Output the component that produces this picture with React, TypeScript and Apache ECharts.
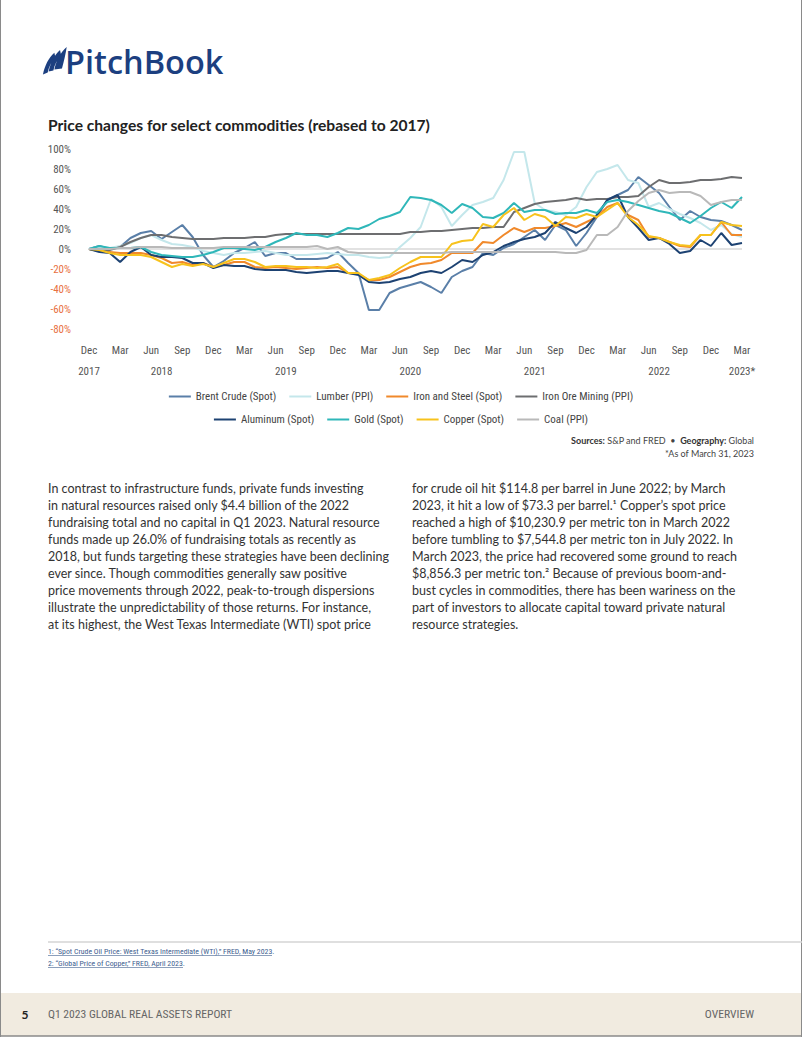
import React, { useEffect, useRef } from "react";
import * as echarts from "echarts";

// ---------- DATA ----------
const MONTH_NAMES = ["Jan", "Feb", "Mar", "Apr", "May", "Jun", "Jul", "Aug", "Sep", "Oct", "Nov", "Dec"];
// Monthly categories from Dec 2017 to Mar 2023
const CATEGORIES: string[] = (() => {
  const out: string[] = [];
  let m = 11, y = 2017;
  while (!(y === 2023 && m === 3)) {
    out.push(MONTH_NAMES[m] + " " + y);
    m++;
    if (m === 12) { m = 0; y++; }
  }
  return out;
})();
const MONTH_TICK_MONTHS = ["Dec", "Mar", "Jun", "Sep"];
const YEAR_TICKS: Record<string, string> = {
  "Dec 2017": "2017",
  "Jul 2018": "2018",
  "Jul 2019": "2019",
  "Jul 2020": "2020",
  "Jul 2021": "2021",
  "Jul 2022": "2022",
  "Mar 2023": "2023*",
};
const Y_MIN = -80;
const Y_MAX = 100;
const Y_STEP = 20;

const SERIES_NAMES = [
  "Brent Crude (Spot)", "Lumber (PPI)", "Iron and Steel (Spot)", "Iron Ore Mining (PPI)",
  "Aluminum (Spot)", "Gold (Spot)", "Copper (Spot)", "Coal (PPI)",
];

const brentCrude = [0, 3, 0, 2, 11, 16, 18, 10, 17, 24, 12, -6, -18, -12, -4, 1, 7, -7, -4, -4, -10, -10, -10, -9, -3, -14, -24, -61, -61, -44, -39, -36, -33, -38, -44, -28, -22, -18, -4, -6, 1, 5, 12, 19, 9, 24, 19, 3, 16, 32, 49, 54, 59, 72, 64, 56, 42, 29, 38, 32, 29, 28, 24, 19];
const lumber = [0, 2, 1, 3, 6, 11, 14, 9, 5, 4, 2, -2, -4, -6, -4, -4, -3, -2, -4, -6, -6, -6, -5, -4, -5, -6, -6, -8, -9, -8, 2, 11, 22, 50, 42, 23, 34, 44, 47, 51, 69, 97, 97, 46, 39, 37, 34, 42, 62, 77, 80, 84, 69, 66, 42, 46, 40, 35, 31, 26, 19, 24, 15, 12];
const ironSteel = [0, -2, -3, -4, -4, -4, -6, -9, -14, -13, -16, -14, -18, -16, -13, -13, -18, -19, -18, -19, -20, -19, -18, -19, -18, -24, -25, -31, -31, -28, -23, -18, -15, -14, -11, -4, -4, -4, 7, 6, 14, 21, 17, 21, 21, 23, 26, 22, 27, 32, 42, 46, 34, 29, 12, 11, 7, 3, 2, 14, 14, 27, 14, 14];
const ironOreMining = [0, -2, -1, 2, 7, 11, 14, 14, 12, 11, 10, 10, 10, 11, 11, 11, 12, 12, 14, 15, 15, 15, 15, 15, 15, 15, 15, 15, 15, 15, 15, 17, 17, 18, 18, 19, 20, 21, 21, 22, 22, 37, 41, 45, 47, 48, 49, 51, 49, 50, 50, 52, 52, 53, 62, 69, 66, 66, 67, 69, 69, 70, 72, 71];
const aluminum = [0, -3, -4, -13, -3, 2, -6, -8, -8, -9, -14, -14, -19, -16, -17, -17, -20, -21, -21, -21, -23, -24, -23, -22, -22, -24, -26, -33, -34, -33, -30, -28, -24, -22, -24, -18, -11, -13, -6, -3, 3, 7, 10, 12, 16, 27, 21, 16, 22, 34, 49, 54, 32, 21, 9, 11, 5, -4, -2, 9, 3, 16, 4, 6];
const gold = [0, 3, 1, 1, 1, 2, -3, -6, -7, -8, -8, -6, -3, 1, 1, 0, -1, 2, 7, 11, 16, 14, 14, 12, 16, 21, 20, 24, 30, 33, 37, 52, 51, 49, 44, 36, 45, 41, 32, 31, 36, 46, 37, 39, 39, 35, 36, 36, 39, 36, 47, 49, 47, 44, 41, 38, 36, 31, 26, 33, 41, 47, 41, 52];
const copper = [0, -1, -4, -6, -6, -6, -8, -13, -18, -15, -17, -15, -18, -14, -10, -10, -13, -18, -17, -17, -18, -18, -19, -18, -15, -24, -24, -31, -29, -26, -19, -13, -8, -8, -8, 5, 8, 9, 25, 22, 34, 41, 29, 35, 32, 23, 32, 31, 35, 32, 39, 46, 32, 24, 13, 11, 7, 4, 3, 14, 14, 27, 24, 23];
const coal = [0, 0, 0, 1, 1, 2, 2, 2, 1, 1, 1, 1, 1, 2, 2, 2, 2, 2, 2, 2, 2, 2, 3, 0, 2, -3, -4, -4, -4, -4, -4, -4, -4, -4, -4, -3, -3, -3, -3, -3, -3, -3, -3, -3, -3, -3, -4, -4, -1, 14, 14, 22, 38, 48, 56, 59, 56, 57, 57, 53, 44, 47, 49, 49];

const SERIES_VALUES = [brentCrude, lumber, ironSteel, ironOreMining, aluminum, gold, copper, coal];
const SERIES_COLORS = ["#5a7fa8", "#c4e7eb", "#f0892b", "#6d6e70", "#1d4272", "#2fb7b9", "#f7c21c", "#b9b9b9"];

const LEFT_TEXT = [
  "In contrast to infrastructure funds, private funds investing",
  "in natural resources raised only $4.4 billion of the 2022",
  "fundraising total and no capital in Q1 2023. Natural resource",
  "funds made up 26.0% of fundraising totals as recently as",
  "2018, but funds targeting these strategies have been declining",
  "ever since. Though commodities generally saw positive",
  "price movements through 2022, peak-to-trough dispersions",
  "illustrate the unpredictability of those returns. For instance,",
  "at its highest, the West Texas Intermediate (WTI) spot price",
];
const RIGHT_TEXT = [
  "for crude oil hit $114.8 per barrel in June 2022; by March",
  "2023, it hit a low of $73.3 per barrel.\u00b9 Copper\u2019s spot price",
  "reached a high of $10,230.9 per metric ton in March 2022",
  "before tumbling to $7,544.8 per metric ton in July 2022. In",
  "March 2023, the price had recovered some ground to reach",
  "$8,856.3 per metric ton.\u00b2 Because of previous boom-and-",
  "bust cycles in commodities, there has been wariness on the",
  "part of investors to allocate capital toward private natural",
  "resource strategies.",
];
const FOOTNOTES = [
  "1: \u201cSpot Crude Oil Price: West Texas Intermediate (WTI),\u201d FRED, May 2023.",
  "2: \u201cGlobal Price of Copper,\u201d FRED, April 2023.",
];

// ---------- STYLE ----------
const COND = '"Roboto Condensed", Roboto, sans-serif';
const BODY = 'Lato, "Open Sans", sans-serif';

const LOGO_PATH =
  "M1,30 C3,21 7,13 13,8 L14,12 C10,17 7,23 6,28 Z " +
  "M7,27 C9,18 13,10 19,5 L20,10 C16,15 13,21 12,26 Z " +
  "M13,25 C15,16 19,8 26,2 C25,9 23,17 21,24 Z";

let registered = false;
function ensureShapes() {
  if (registered) return;
  registered = true;
  echarts.graphic.registerShape("logo", echarts.graphic.extendPath(LOGO_PATH, {}) as any);
}

export default function App() {
  const ref = useRef<HTMLDivElement | null>(null);

  useEffect(() => {
    document.body.style.margin = "0";
    if (!ref.current) return;
    ensureShapes();
    const chart = echarts.init(ref.current, null, { renderer: "svg" });

    const series: any[] = SERIES_NAMES.map((name, k) => ({
      name,
      type: "line",
      data: SERIES_VALUES[k],
      showSymbol: false,
      symbol: "none",
      lineStyle: { width: 2, color: SERIES_COLORS[k] },
      itemStyle: { color: SERIES_COLORS[k] },
      z: 3,
    }));
    series[0].markLine = {
      silent: true,
      symbol: "none",
      label: { show: false },
      lineStyle: { color: "#d9d9d9", type: "solid", width: 1.5 },
      data: [{ yAxis: 0 }],
      z: 1,
    };

    const legendText = { fontFamily: COND, fontSize: 11, color: "#444" };
    const axisFont = { fontFamily: COND, fontSize: 11, color: "#555" };

    const option: any = {
      animation: false,
      grid: { left: 89, top: 149, width: 653, height: 180, containLabel: false },
      xAxis: [
        {
          type: "category",
          data: CATEGORIES,
          boundaryGap: false,
          axisLine: { show: false },
          axisTick: { show: false },
          splitLine: { show: false },
          axisLabel: {
            interval: (i: number) => i % 3 === 0,
            formatter: (v: string) => {
              const mo = v.split(" ")[0];
              return MONTH_TICK_MONTHS.includes(mo) ? mo : "";
            },
            margin: 16,
            ...axisFont,
          },
        },
        {
          type: "category",
          data: CATEGORIES,
          boundaryGap: false,
          position: "bottom",
          offset: 21,
          axisLine: { show: false },
          axisTick: { show: false },
          splitLine: { show: false },
          axisLabel: {
            interval: (i: number, v: string) => YEAR_TICKS[v] !== undefined,
            formatter: (v: string) => YEAR_TICKS[v] || "",
            margin: 16,
            ...axisFont,
          },
        },
      ],
      yAxis: {
        type: "value",
        min: Y_MIN,
        max: Y_MAX,
        interval: Y_STEP,
        axisLine: { show: false },
        axisTick: { show: false },
        splitLine: { show: false },
        axisLabel: {
          margin: 18,
          formatter: (v: number) => (v < 0 ? `{neg|${v}%}` : `{pos|${v}%}`),
          rich: {
            pos: { fontFamily: COND, fontSize: 11, color: "#555" },
            neg: { fontFamily: COND, fontSize: 11, color: "#e8703f" },
          },
        },
      },
      legend: [
        {
          data: SERIES_NAMES.slice(0, 4),
          left: "center",
          top: 386,
          icon: "rect",
          itemWidth: 22,
          itemHeight: 2,
          itemGap: 13,
          textStyle: legendText,
        },
        {
          data: SERIES_NAMES.slice(4),
          left: "center",
          top: 409,
          icon: "rect",
          itemWidth: 22,
          itemHeight: 2,
          itemGap: 13,
          textStyle: legendText,
        },
      ],
      series,
      graphic: [
        // page borders
        { type: "line", shape: { x1: 0.5, y1: 0, x2: 0.5, y2: 1037 }, style: { stroke: "#8a8a8a", lineWidth: 1 } },
        { type: "line", shape: { x1: 801.5, y1: 0, x2: 801.5, y2: 1037 }, style: { stroke: "#8a8a8a", lineWidth: 1 } },
        // footer band
        { type: "rect", shape: { x: 1, y: 993, width: 800, height: 43 }, style: { fill: "#f1ebe0" } },
        { type: "line", shape: { x1: 0, y1: 1036, x2: 802, y2: 1036 }, style: { stroke: "#8a8a8a", lineWidth: 1.5 } },
        {
          type: "text", x: 25, y: 1014,
          style: { text: "5", fontFamily: BODY, fontWeight: 700, fontSize: 12, fill: "#222", align: "center", verticalAlign: "middle" },
        },
        {
          type: "text", x: 48, y: 1014,
          style: { text: "Q1 2023 GLOBAL REAL ASSETS REPORT", fontFamily: COND, fontSize: 11.6, fill: "#666", verticalAlign: "middle" },
        },
        {
          type: "text", x: 754, y: 1014,
          style: { text: "OVERVIEW", fontFamily: COND, fontSize: 11.6, fill: "#666", align: "right", verticalAlign: "middle" },
        },
        // logo
        { type: "logo", x: 42, y: 45, scaleX: 0.95, scaleY: 0.98, style: { fill: "#1c3f80" } },
        {
          type: "text", x: 65, y: 61,
          style: { text: "PitchBook", fontFamily: '"Open Sans", sans-serif', fontWeight: 600, fontSize: 32.5, fill: "#1c3f80", verticalAlign: "middle" },
        },
        // title
        {
          type: "text", x: 48, y: 125,
          style: { text: "Price changes for select commodities (rebased to 2017)", fontFamily: BODY, fontWeight: 700, fontSize: 15.6, fill: "#222", verticalAlign: "middle" },
        },
        // sources
        {
          type: "text", x: 754, y: 440,
          style: {
            text: "{b|Sources:} S&P and FRED  \u2022  {b|Geography:} Global",
            rich: { b: { fontFamily: BODY, fontWeight: 700, fontSize: 9, fill: "#333" } },
            fontFamily: BODY, fontSize: 9, fill: "#444", align: "right", verticalAlign: "middle",
          },
        },
        {
          type: "text", x: 754, y: 453,
          style: { text: "*As of March 31, 2023", fontFamily: BODY, fontSize: 9, fill: "#444", align: "right", verticalAlign: "middle" },
        },
        // body text
        {
          type: "text", x: 48, y: 480,
          style: { text: LEFT_TEXT.join("\n"), fontFamily: BODY, fontSize: 12.5, lineHeight: 17, fill: "#333", verticalAlign: "top" },
        },
        {
          type: "text", x: 412, y: 480,
          style: { text: RIGHT_TEXT.join("\n"), fontFamily: BODY, fontSize: 12.5, lineHeight: 17, fill: "#333", verticalAlign: "top" },
        },
        // footnotes
        { type: "line", shape: { x1: 48, y1: 942, x2: 802, y2: 942 }, style: { stroke: "#d4d4d4", lineWidth: 1.5 } },
        {
          type: "text", x: 48, y: 951,
          style: { text: FOOTNOTES[0], fontFamily: COND, fontSize: 7.8, fill: "#40608f", verticalAlign: "middle" },
        },
        { type: "line", shape: { x1: 48, y1: 955.5, x2: 272, y2: 955.5 }, style: { stroke: "#40608f", lineWidth: 0.6 } },
        {
          type: "text", x: 48, y: 963,
          style: { text: FOOTNOTES[1], fontFamily: COND, fontSize: 7.8, fill: "#40608f", verticalAlign: "middle" },
        },
        { type: "line", shape: { x1: 48, y1: 967.5, x2: 183, y2: 967.5 }, style: { stroke: "#40608f", lineWidth: 0.6 } },
      ],
    };

    chart.setOption(option);
    return () => chart.dispose();
  }, []);

  return <div ref={ref} style={{ width: 802, height: 1037, background: "#fff" }} />;
}
